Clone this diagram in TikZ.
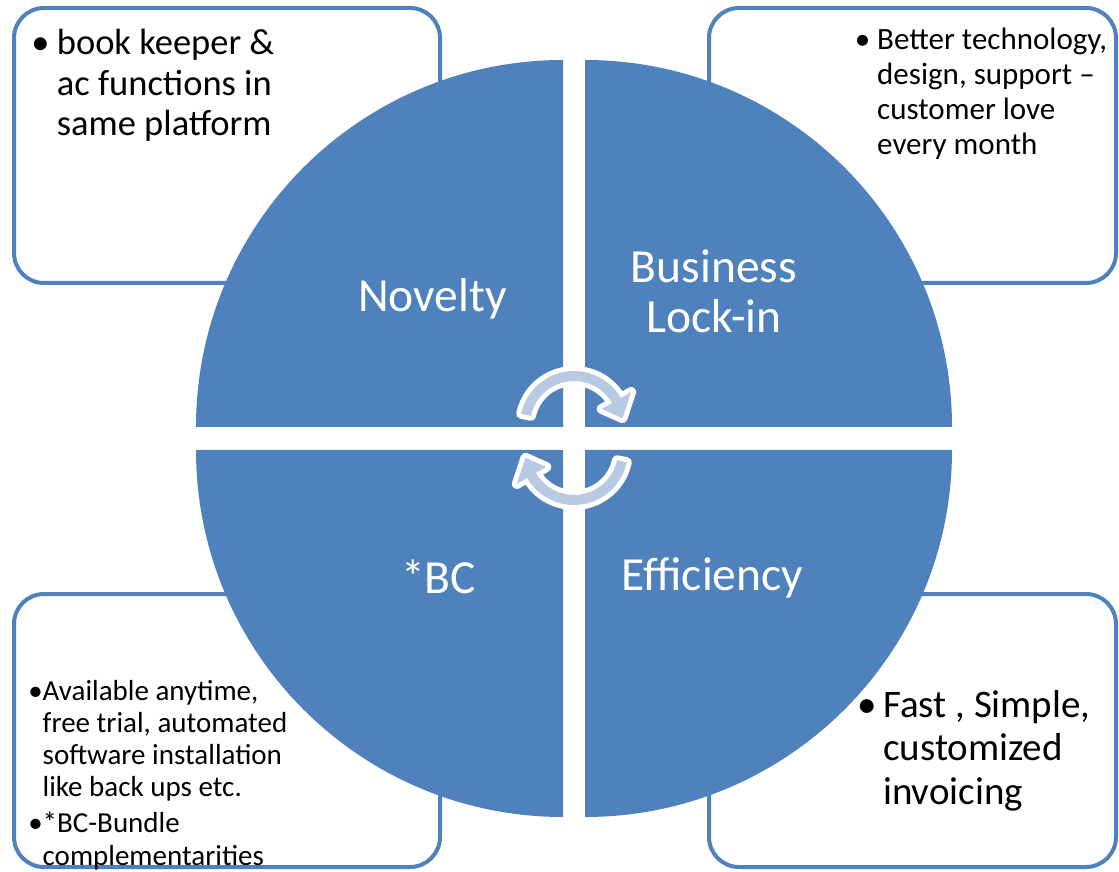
\documentclass[tikz,border=0pt]{standalone}
\usepackage{fontspec}
\setmainfont{Carlito}
\usepackage{tikz}
\definecolor{smartblue}{RGB}{79,129,189}
\definecolor{arrowblue}{RGB}{185,202,227}
\newcommand{\itemdot}[1]{\llap{\textbullet\hspace{#1}}}

\begin{document}
\begin{tikzpicture}[x=1pt,y=1pt,
  infobox/.style={draw=smartblue,line width=4pt,fill=white,rounded corners=30pt,inner sep=0pt},
  quadlabel/.style={text=white,font=\fontsize{47.5}{50}\selectfont,inner sep=0pt,anchor=base},
  boxtext/.style={inner sep=0pt,anchor=base west},
  cyclearrow/.style={fill=arrowblue,preaction={draw=white,line width=10pt,line join=round}}]

\useasboundingbox (0,0) rectangle (1119,871);
\fill[white] (0,0) rectangle (1119,871);

\node[infobox,minimum width=426pt,minimum height=275pt] (novbox) at (227,725.5) {};
\node[infobox,minimum width=407pt,minimum height=275pt] (lockbox) at (912.5,725.5) {};
\node[infobox,minimum width=426pt,minimum height=273pt] (bcbox) at (227,140.5) {};
\node[infobox,minimum width=407pt,minimum height=273pt] (effbox) at (912.5,140.5) {};

\fill[smartblue] (563,444) -- ++(180:367) arc[start angle=180,end angle=90,radius=367] -- cycle;
\fill[smartblue] (585,444) -- ++(0:367) arc[start angle=0,end angle=90,radius=367] -- cycle;
\fill[smartblue] (563,421) -- ++(180:367) arc[start angle=180,end angle=270,radius=367] -- cycle;
\fill[smartblue] (585,421) -- ++(0:367) arc[start angle=0,end angle=-90,radius=367] -- cycle;

\fill[cyclearrow,shift={(574,446)}] (168:44) arc[start angle=168,end angle=30,radius=44] -- (30:32) -- (8:49) -- (30:66) -- (30:54) arc[start angle=30,end angle=168,radius=54] -- cycle;
\fill[cyclearrow,shift={(574,420)},rotate=180] (168:44) arc[start angle=168,end angle=30,radius=44] -- (30:32) -- (8:49) -- (30:66) -- (30:54) arc[start angle=30,end angle=168,radius=54] -- cycle;

\node[quadlabel] (novelty) at (432.5,559.3) {Novelty};
\node[quadlabel] (lockin) at (714,588) {\begin{tabular}[t]{@{}c@{}}Business\\Lock-in\end{tabular}};
\node[quadlabel] (bc) at (438.5,278) {*BC};
\node[quadlabel] (efficiency) at (712.5,280) {Efficiency};

\node[boxtext,font=\fontsize{36.5}{40.5}\selectfont] (novtext) at (56.7,816) {\begin{tabular}[t]{@{}l@{}}\itemdot{0.2em}book keeper \&\\ac functions in\\same platform\end{tabular}};
\node[boxtext,font=\fontsize{31}{35}\selectfont] (locktext) at (877,821) {\begin{tabular}[t]{@{}l@{}}\itemdot{0.22em}Better technology,\\design, support --\\customer love\\every month\end{tabular}};
\node[boxtext,font=\fontsize{29}{32.2}\selectfont] (bctext) at (42.5,171) {\begin{tabular}[t]{@{}l@{}}\itemdot{0pt}Available anytime,\\free trial, automated\\software installation\\like back ups etc.\\[4pt]\itemdot{0pt}*BC-Bundle\\complementarities\end{tabular}};
\node[boxtext,font=\fontsize{39}{43.5}\selectfont] (efftext) at (883,154) {\begin{tabular}[t]{@{}l@{}}\itemdot{0.15em}Fast , Simple,\\customized\\invoicing\end{tabular}};

\end{tikzpicture}
\end{document}
